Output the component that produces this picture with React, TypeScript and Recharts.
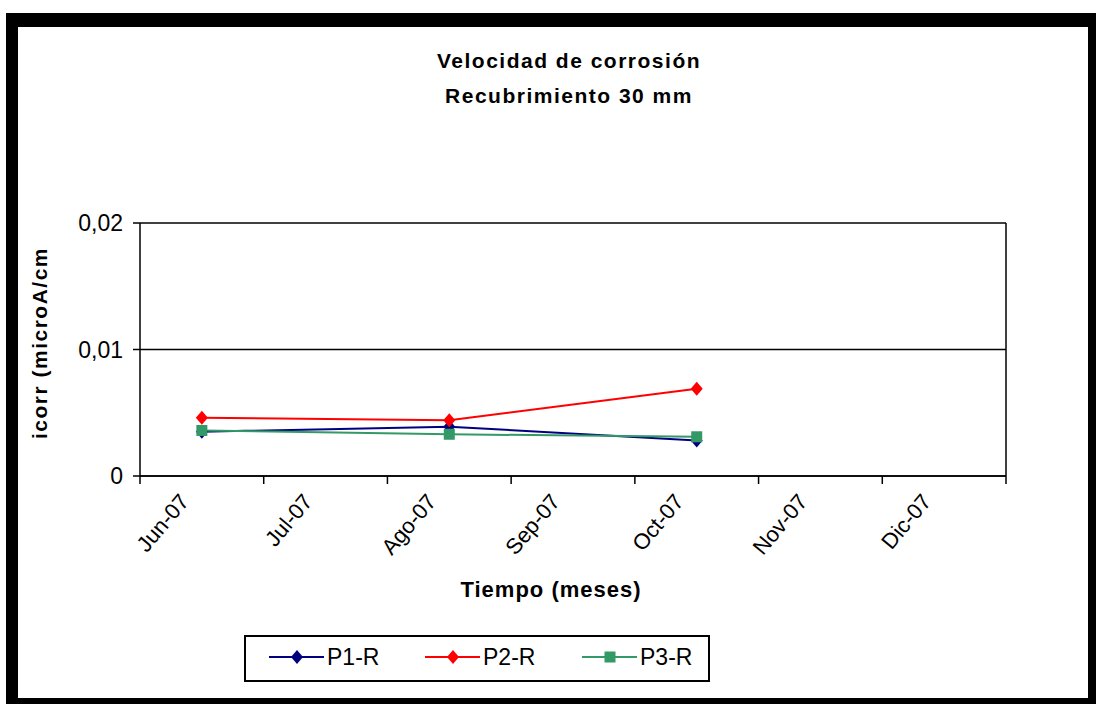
import React from "react"
import { LineChart, Line, XAxis, YAxis, CartesianGrid, ReferenceLine } from "recharts"

// month labels on the date axis (one tick per month boundary)
const months = ["Jun-07", "Jul-07", "Ago-07", "Sep-07", "Oct-07", "Nov-07", "Dic-07"]
const monthTicks = [0, 1, 2, 3, 4, 5, 6, 7]
// measurement dates, as months since 1 Jun 2007 (mid-month readings)
const sampleMonths = [0.5, 2.5, 4.5]

const p1 = [0.0035, 0.0039, 0.0028]
const p2 = [0.0046, 0.0044, 0.0069]
const p3 = [0.0036, 0.0033, 0.0031]

const yTicks = [0, 0.01, 0.02]

const series = [
  { key: "p1", name: "P1-R", color: "#000080", shape: "diamond" },
  { key: "p2", name: "P2-R", color: "#ff0000", shape: "diamond" },
  { key: "p3", name: "P3-R", color: "#339966", shape: "square" },
]

const data = sampleMonths.map((t, i) => ({ t, p1: p1[i], p2: p2[i], p3: p3[i] }))

const FONT = '"Liberation Sans", Arial, sans-serif'

function marker(shape: string, color: string, cx: number, cy: number, key?: any) {
  if (shape === "square") {
    return <rect key={key} x={cx - 5.5} y={cy - 5.5} width={11} height={11} fill={color} />
  }
  return (
    <polygon
      key={key}
      points={`${cx},${cy - 7} ${cx + 6},${cy} ${cx},${cy + 7} ${cx - 6},${cy}`}
      fill={color}
    />
  )
}

function MonthTick(props: any) {
  const { x, y, payload } = props
  const label = months[payload.value]
  if (!label) return null
  return (
    <text
      x={x + 50}
      y={y + 16}
      transform={`rotate(-50 ${x + 50} ${y + 16})`}
      textAnchor="end"
      fontFamily={FONT}
      fontSize={22}
      fill="#000"
    >
      {label}
    </text>
  )
}

function ChartLegend() {
  const spots = [269, 425, 582]
  return (
    <div
      style={{
        position: "absolute",
        left: 244,
        top: 635,
        width: 466,
        height: 47,
        boxSizing: "border-box",
        border: "2px solid #000",
        background: "#fff",
      }}
    >
      <svg width={462} height={43} style={{ position: "absolute", left: 0, top: 0 }}>
        {series.map((s, i) => {
          const x0 = spots[i] - 246
          return (
            <g key={s.key}>
              <line x1={x0} x2={x0 + 55} y1={20} y2={20} stroke={s.color} strokeWidth={2} />
              {marker(s.shape, s.color, x0 + 28, 20)}
              <text x={x0 + 58} y={28} fontFamily={FONT} fontSize={23} fill="#000">
                {s.name}
              </text>
            </g>
          )
        })}
      </svg>
    </div>
  )
}

export default function App() {
  return (
    <div
      style={{
        position: "absolute",
        left: 0,
        top: 0,
        width: 1096,
        height: 704,
        background: "#fff",
        fontFamily: FONT,
        overflow: "hidden",
      }}
    >
      <div
        style={{
          position: "absolute",
          left: 6,
          top: 13,
          width: 1090,
          height: 691,
          boxSizing: "border-box",
          borderStyle: "solid",
          borderColor: "#000",
          borderWidth: "14px 8px 6px 12px",
        }}
      />
      <div style={{ position: "absolute", left: 0, top: 0 }}>
        <LineChart
          width={1096}
          height={704}
          data={data}
          margin={{ top: 223, right: 90, bottom: 168, left: 80 }}
        >
          <CartesianGrid vertical={false} stroke="#000" strokeWidth={1.5} />
          <XAxis
            dataKey="t"
            type="number"
            domain={[0, 7]}
            ticks={monthTicks}
            interval={0}
            height={60}
            tickSize={8}
            axisLine={{ stroke: "#000", strokeWidth: 1.5 }}
            tickLine={{ stroke: "#000", strokeWidth: 1.5 }}
            tick={<MonthTick />}
          />
          <YAxis
            type="number"
            domain={[0, 0.02]}
            ticks={yTicks}
            width={60}
            tickSize={7}
            tickMargin={10}
            axisLine={{ stroke: "#000", strokeWidth: 1.5 }}
            tickLine={{ stroke: "#000", strokeWidth: 1.5 }}
            tick={{ fill: "#000", fontSize: 23, fontFamily: FONT }}
            tickFormatter={(v: number) => (v === 0 ? "0" : v.toFixed(2).replace(".", ","))}
          />
          <ReferenceLine x={7} stroke="#000" strokeWidth={1.5} />
          {series.map((s) => (
            <Line
              key={s.key}
              dataKey={s.key}
              name={s.name}
              stroke={s.color}
              strokeWidth={2}
              isAnimationActive={false}
              dot={(p: any) => marker(s.shape, s.color, p.cx, p.cy, p.index)}
              activeDot={false}
            />
          ))}
        </LineChart>
      </div>
      <div
        style={{
          position: "absolute",
          left: 0,
          top: 43,
          width: 1138,
          textAlign: "center",
          fontWeight: "bold",
          fontSize: 21,
          lineHeight: "35px",
          letterSpacing: 1.5,
        }}
      >
        Velocidad de corrosión
        <br />
        Recubrimiento 30 mm
      </div>
      <div
        style={{
          position: "absolute",
          left: 40,
          top: 343,
          transform: "translate(-50%, -50%) rotate(-90deg)",
          whiteSpace: "nowrap",
          fontWeight: "bold",
          fontSize: 21,
          letterSpacing: 1.5,
        }}
      >
        icorr (microA/cm
      </div>
      <div
        style={{
          position: "absolute",
          left: 551,
          top: 590,
          transform: "translate(-50%, -50%)",
          whiteSpace: "nowrap",
          fontWeight: "bold",
          fontSize: 22,
          letterSpacing: 1,
        }}
      >
        Tiempo (meses)
      </div>
      <ChartLegend />
    </div>
  )
}
